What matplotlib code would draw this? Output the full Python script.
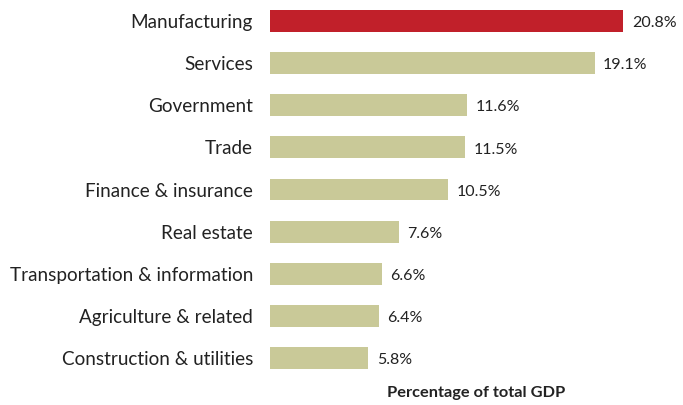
import matplotlib.pyplot as plt

plt.rcParams['font.family'] = ['Lato', 'DejaVu Sans']

# sectors, top to bottom
sectors = ['Manufacturing', 'Services', 'Government', 'Trade',
           'Finance & insurance', 'Real estate', 'Transportation & information',
           'Agriculture & related', 'Construction & utilities']
share = [20.8, 19.1, 11.6, 11.5, 10.5, 7.6, 6.6, 6.4, 5.8]
highlight = 'Manufacturing'

red = '#c1202a'
khaki = '#c9c998'

fig = plt.figure(figsize=(6.83, 4.05), dpi=100)
ax = fig.add_axes([0.395, 0.064, 0.605, 0.936])

ypos = list(range(len(sectors)))
colors = [red if s == highlight else khaki for s in sectors]
ax.barh(ypos, share, height=0.52, color=colors)

for y, v in zip(ypos, share):
    ax.text(v + 0.5, y + 0.05, f'{v:.1f}%', va='center', ha='left',
            fontsize=11.5, color='#222222')

ax.set_yticks(ypos)
ax.set_yticklabels(sectors, fontsize=13.6, color='#222222')
ax.tick_params(axis='y', length=0, pad=12)
ax.set_xticks([])
ax.set_xlim(0, 24.3)
ax.set_ylim(len(sectors) - 0.5, -0.5)
for sp in ax.spines.values():
    sp.set_visible(False)

ax.set_xlabel('Percentage of total GDP', fontsize=11.8, fontweight='bold',
              color='#222222', labelpad=5)

fig.savefig('out.png', dpi=100)
